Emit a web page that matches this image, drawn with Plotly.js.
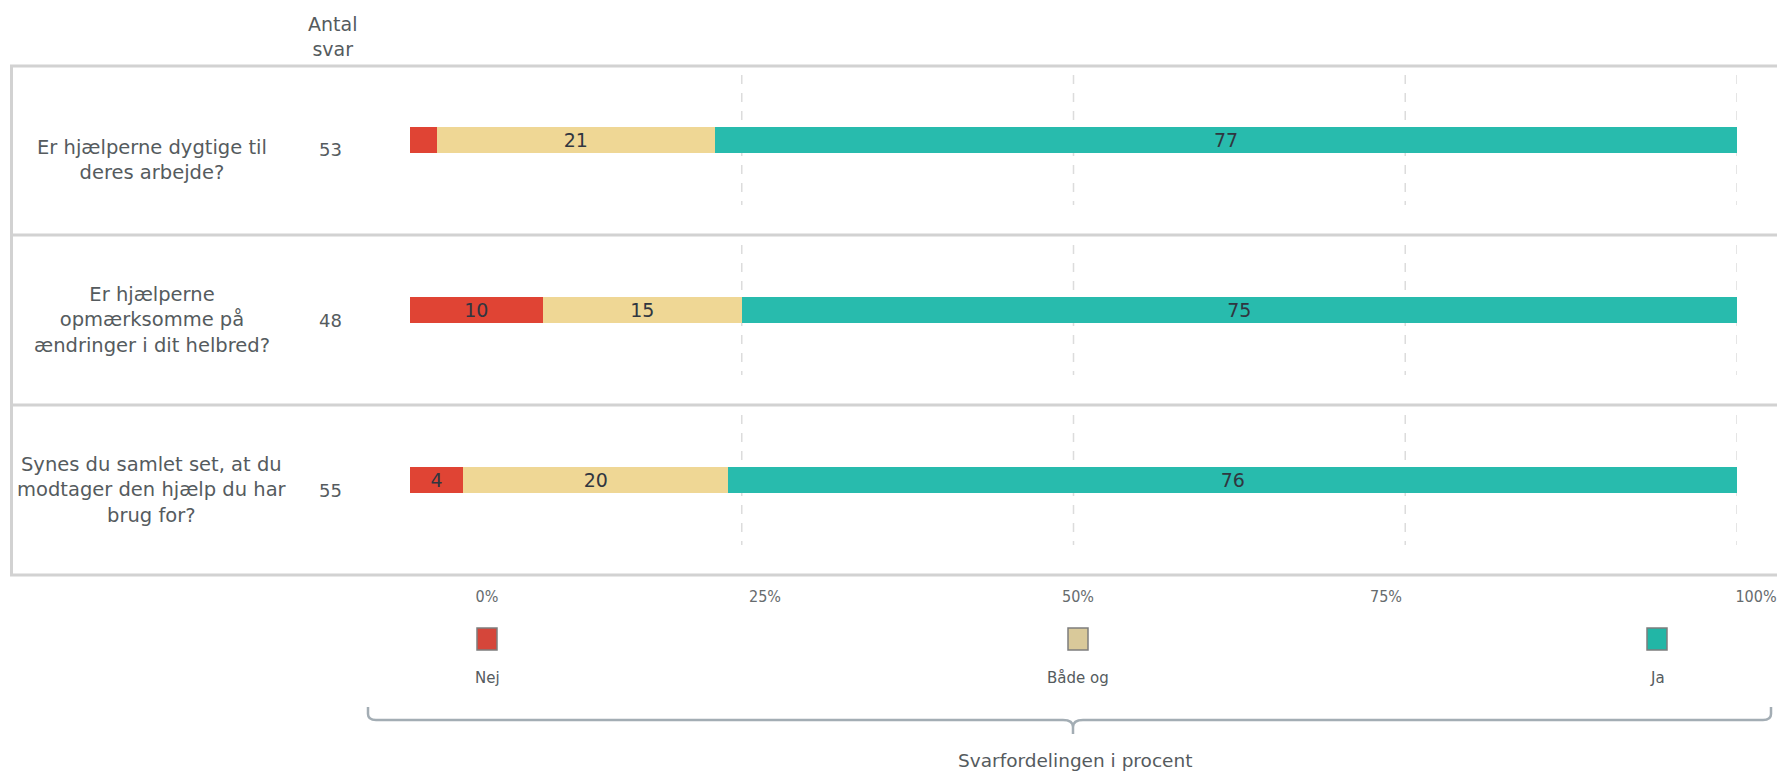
<!DOCTYPE html>
<html>
<head>
<meta charset="utf-8">
<script src="https://cdn.plot.ly/plotly-3.0.1.min.js"></script>
<style>html,body{margin:0;padding:0;background:#fff;}#chart{width:1777px;height:771px;}</style>
</head>
<body>
<div id="chart"></div>
<script>
// ---- data ----
const questions = [
  "Er hjælperne dygtige til<br>deres arbejde?",
  "Er hjælperne<br>opmærksomme på<br>ændringer i dit helbred?",
  "Synes du samlet set, at du<br>modtager den hjælp du har<br>brug for?"
];
const counts = [53, 48, 55];
const seriesNames = ["Nej", "Både og", "Ja"];
const nej = [2, 10, 4];
const baade = [21, 15, 20];
const ja = [77, 75, 76];
const tickLabels = ["0%", "25%", "50%", "75%", "100%"];
const gridValues = [25, 50, 75, 100];
const headerText = "Antal<br>svar";
const axisTitle = "Svarfordelingen i procent";

// ---- styling / layout ----
const W = 1777, H = 771;
const colors = ["#e04434", "#efd795", "#28bbad"];
const legendColors = ["#d5463a", "#d9c99a", "#22b6a6"];
const FONT = "DejaVu Sans";
const rowIdx = questions.map((_, i) => i);
const series = [nej, baade, ja];

const traces = series.map((vals, s) => ({
  type: "bar",
  orientation: "h",
  name: seriesNames[s],
  x: vals,
  y: rowIdx,
  width: 0.153,
  marker: {color: colors[s], line: {width: 0}},
  text: vals.map(v => v >= 3 ? String(v) : ""),
  textposition: "inside",
  insidetextanchor: "middle",
  textangle: 0,
  constraintext: "none",
  textfont: {family: FONT, size: 19, color: "#303640"},
  hoverinfo: "x+name",
  xaxis: "x", yaxis: "y"
}));
// empty trace to host the pixel axes
traces.push({type: "scatter", x: [], y: [], xaxis: "x2", yaxis: "y2", hoverinfo: "skip", showlegend: false});

const px = (p) => p / W;
const py = (p) => 1 - p / H;

const shapes = [];
const lineCol = "#d2d2d2";
// row separators & border
[66, 235, 405, 575].forEach(y => shapes.push({type: "line", xref: "x2", yref: "y2", x0: 10, x1: W, y0: y, y1: y, line: {color: lineCol, width: 3}}));
shapes.push({type: "line", xref: "x2", yref: "y2", x0: 11.5, x1: 11.5, y0: 66, y1: 575, line: {color: lineCol, width: 3}});
// dashed gridlines per row
rowIdx.forEach(i => gridValues.forEach(g => shapes.push({
  type: "line", xref: "x", yref: "y", x0: g, x1: g, y0: i - 0.382, y1: i + 0.382,
  layer: "below", line: {color: "#dcdcdc", width: 1.5, dash: "dash"}
})));
// legend squares
const legendX = [487, 1078, 1657];
legendX.forEach((x, s) => shapes.push({
  type: "rect", xref: "x2", yref: "y2", x0: x - 10, x1: x + 10, y0: 628, y1: 650,
  fillcolor: legendColors[s], line: {color: "#7d7d7d", width: 1.5}
}));
// brace
shapes.push({
  type: "path", xref: "x2", yref: "y2",
  path: "M 368 707 L 368 714 Q 368 720 376 720 L 1063 720 Q 1073 720 1073 727 L 1073 734 " +
        "M 1073 727 Q 1073 720 1083 720 L 1763 720 Q 1771 720 1771 714 L 1771 707",
  line: {color: "#a3adb4", width: 2.5}
});

const annotations = [];
const txtCol = "#555b5e";
annotations.push({xref: "x2", yref: "y2", x: 332, y: 36, text: headerText, showarrow: false,
  font: {family: FONT, size: 19, color: txtCol}, align: "center"});
const labelShift = [-20, -10, -10];
questions.forEach((q, i) => {
  annotations.push({xref: "x2", yref: "y", x: 152, y: i, yshift: labelShift[i], text: q, showarrow: false,
    font: {family: FONT, size: 19.5, color: txtCol}, align: "center"});
  annotations.push({xref: "x2", yref: "y", x: 330, y: i, yshift: -10, text: String(counts[i]), showarrow: false,
    font: {family: FONT, size: 18, color: txtCol}, align: "center"});
});
seriesNames.forEach((n, s) => annotations.push({xref: "x2", yref: "y2", x: legendX[s], y: 678, text: n, showarrow: false,
  font: {family: FONT, size: 15, color: txtCol}}));
annotations.push({xref: "x2", yref: "y2", x: 1075, y: 760, text: axisTitle, showarrow: false,
  font: {family: FONT, size: 18.5, color: txtCol}});

const layout = {
  width: W, height: H,
  margin: {l: 0, r: 0, t: 0, b: 0, pad: 0},
  paper_bgcolor: "#ffffff", plot_bgcolor: "rgba(0,0,0,0)",
  barmode: "stack",
  showlegend: false,
  xaxis: {domain: [px(410), px(1737)], range: [0, 100], visible: false, fixedrange: true},
  yaxis: {domain: [py(565), py(55)], range: [2.5, -0.5], visible: false, fixedrange: true},
  xaxis2: {domain: [0, 1], range: [0, W], anchor: "free", position: py(585),
    showgrid: false, zeroline: false, showline: false, ticks: "",
    ticklabeloverflow: "allow",
    tickmode: "array", tickvals: [487, 765, 1078, 1386, 1756], ticktext: tickLabels,
    tickfont: {family: "DejaVu Sans Condensed", size: 16, color: "#666b6e"}, fixedrange: true},
  yaxis2: {domain: [0, 1], range: [H, 0], anchor: "free", position: 0, visible: false, fixedrange: true},
  shapes: shapes,
  annotations: annotations
};

Plotly.newPlot("chart", traces, layout, {displayModeBar: false, staticPlot: true});
</script>
</body>
</html>
